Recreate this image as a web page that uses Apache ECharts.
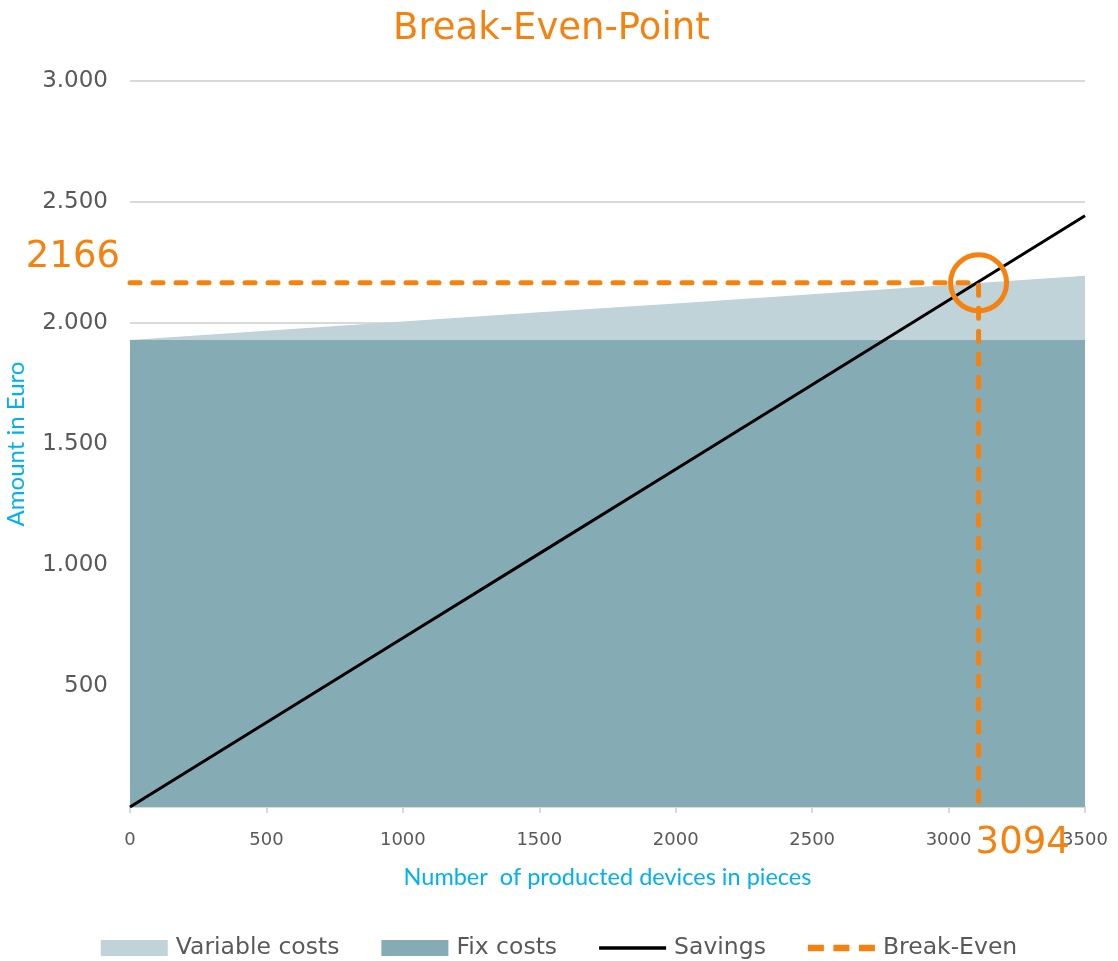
<!DOCTYPE html>
<html lang="en">
<head>
    <meta charset="UTF-8">
    <title>Break-Even-Point</title>
    <script src="https://cdn.jsdelivr.net/npm/echarts@6/dist/echarts.min.js"></script>
</head>
<body style="margin:0">
<div id="demo" style="width: 1118px;height: 961px;"></div>
<script>
    var pieces = [0, 500, 1000, 1500, 2000, 2500, 3000, 3500];
    var fixCosts = [1930, 1930, 1930, 1930, 1930, 1930, 1930, 1930];
    var variableCosts = [0, 38, 76, 114, 151, 189, 227, 265];
    var savings = [0, 349, 698, 1047, 1396, 1745, 2094, 2443];
    // where the dashed lines meet (as drawn) and the values printed next to them
    var breakEvenPos = [3110, 2166];
    var breakEvenText = ['3094', '2166'];

    var orange = '#f5820f';
    var font = 'DejaVu Sans, Verdana, sans-serif';
    var nameFont = 'Lato, sans-serif';

    // the light area sits on top of the fix costs, so draw fix + variable behind
    var totalCosts = [];
    for (var k = 0; k < pieces.length; k++) totalCosts.push(fixCosts[k] + variableCosts[k]);

    function zip(xs, ys) {
        var out = [];
        for (var i = 0; i < xs.length; i++) out.push([xs[i], ys[i]]);
        return out;
    }

    var myChart = echarts.init(document.getElementById('demo'));
    var option = {
        textStyle: {fontFamily: font},
        title: {
            text: 'Break-Even-Point',
            left: 388,
            top: 6,
            textStyle: {color: orange, fontSize: 37, fontWeight: 'normal', fontFamily: font}
        },
        legend: {
            top: 931,
            left: 'center',
            itemWidth: 67,
            itemHeight: 16,
            itemGap: 42,
            textStyle: {color: '#595959', fontSize: 23.5, fontFamily: font, padding: [0, 0, 0, 3]},
            data: [
                {name: 'Variable costs', icon: 'rect'},
                {name: 'Fix costs', icon: 'rect'},
                {name: 'Savings', icon: 'path://M0,0 h60 v3 h-60 z'},
                {name: 'Break-Even', icon: 'path://M0,0 h15 v6 h-15 z M24,0 h15 v6 h-15 z M48,0 h15 v6 h-15 z'}
            ]
        },
        grid: {left: 130, right: 33, top: 81, bottom: 154, outerBoundsMode: 'none', containLabel: false},
        xAxis: {
            type: 'value',
            min: 0,
            max: 3500,
            interval: 500,
            name: 'Number  of producted devices in pieces',
            nameLocation: 'middle',
            nameGap: 58,
            nameTextStyle: {color: '#00b0f0', fontSize: 23.5, fontFamily: nameFont},
            axisLine: {lineStyle: {color: '#d9d9d9', width: 2}},
            axisTick: {show: true, length: 6, lineStyle: {color: '#d9d9d9', width: 2}},
            axisLabel: {
                color: '#595959',
                fontSize: 18,
                margin: 24,
                formatter: function (v) { return String(v); }
            },
            splitLine: {show: false}
        },
        yAxis: {
            type: 'value',
            min: 0,
            max: 3000,
            interval: 500,
            name: 'Amount in Euro',
            nameLocation: 'middle',
            nameGap: 102,
            nameTextStyle: {color: '#00b0f0', fontSize: 24, fontFamily: nameFont},
            axisLine: {show: false},
            axisTick: {show: false},
            axisLabel: {
                color: '#595959',
                fontSize: 23,
                margin: 22,
                formatter: function (v) {
                    if (v === 0) return '';
                    return String(v).replace(/\B(?=(\d{3})+(?!\d))/g, '.');
                }
            },
            splitLine: {lineStyle: {color: '#d9d9d9', width: 2}}
        },
        series: [
            {
                name: 'Variable costs',
                type: 'line',
                symbol: 'none',
                lineStyle: {width: 0},
                itemStyle: {color: '#bfd3d8'},
                areaStyle: {color: '#bfd3d8', opacity: 1},
                data: zip(pieces, totalCosts)
            },
            {
                name: 'Fix costs',
                type: 'line',
                symbol: 'none',
                lineStyle: {width: 0},
                itemStyle: {color: '#85abb5'},
                areaStyle: {color: '#85abb5', opacity: 1},
                data: zip(pieces, fixCosts)
            },
            {
                name: 'Savings',
                type: 'line',
                symbol: 'none',
                itemStyle: {color: '#000'},
                lineStyle: {color: '#000', width: 3},
                data: zip(pieces, savings),
                z: 3
            },
            {
                name: 'Break-Even',
                type: 'line',
                symbol: 'none',
                itemStyle: {color: orange},
                lineStyle: {color: orange, width: 5, type: [10, 13], cap: 'round'},
                data: [[0, breakEvenPos[1]], breakEvenPos, [breakEvenPos[0], 0]],
                markPoint: {
                    symbol: 'circle',
                    symbolSize: 56,
                    silent: true,
                    itemStyle: {color: 'rgba(0,0,0,0)', borderColor: orange, borderWidth: 5},
                    label: {show: false},
                    data: [{coord: breakEvenPos}]
                },
                z: 4
            },
            {
                name: 'labels',
                type: 'scatter',
                symbolSize: 0,
                silent: true,
                itemStyle: {opacity: 1, color: orange},
                label: {show: true, color: orange, fontSize: 37, fontFamily: font},
                data: [
                    {
                        value: [0, breakEvenPos[1]],
                        label: {position: 'left', distance: 10, offset: [0, -25], formatter: breakEvenText[1]}
                    },
                    {
                        value: [breakEvenPos[0], 0],
                        label: {position: 'right', distance: -3, offset: [0, 36], formatter: breakEvenText[0]}
                    }
                ],
                z: 5
            }
        ]
    };
    myChart.setOption(option);
</script>
</body>
</html>
